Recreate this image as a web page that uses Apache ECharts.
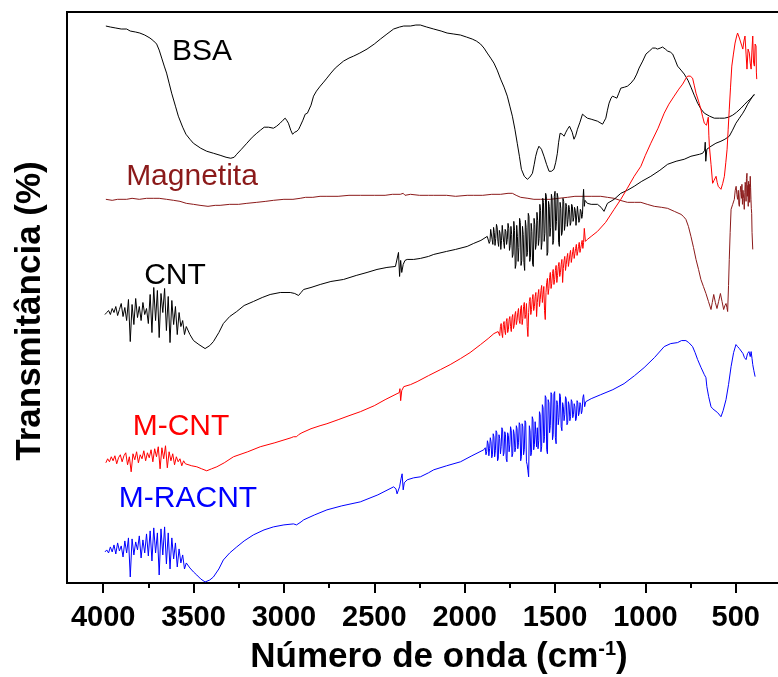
<!DOCTYPE html>
<html>
<head>
<meta charset="utf-8">
<script src="https://cdn.jsdelivr.net/npm/echarts@6/dist/echarts.min.js"></script>
<style>
  html, body { margin: 0; padding: 0; background: #fff; }
  #chart { width: 778px; height: 677px; }
</style>
</head>
<body>
<div id="chart"></div>
<script>
// FTIR spectra: [wavenumber (cm-1), transmittance (a.u., vertically offset)]
const bsa = [
  [3985,556],[3960,555],[3930,554],[3900,553],[3870,553],[3850,551],[3820,550],[3797,549],[3770,547],[3741,544],
  [3720,541],[3704,538],[3690,532],[3676,524],[3662,516],[3649,509],[3635,499],[3621,489],[3600,476],[3584,466],
  [3560,455],[3542,448],[3520,443],[3501,439],[3460,434],[3427,431],[3390,429],[3353,427],[3320,425],[3294,424],
  [3275,425],[3261,428],[3235,433],[3205,439],[3175,445],[3150,449],[3130,452],[3109,455],[3085,455],[3058,454],
  [3040,456],[3021,459],[3005,462],[2993,464],[2985,462],[2975,459],[2962,452],[2952,448],[2940,450],[2928,451],
  [2918,453],[2910,456],[2895,462],[2882,468],[2870,469],[2864,469],[2850,477],[2836,486],[2820,491],[2799,496],
  [2780,500],[2762,504],[2740,509],[2716,514],[2690,518],[2670,521],[2640,524],[2614,526],[2580,529],[2540,533],
  [2500,538],[2466,543],[2430,548],[2393,553],[2360,555],[2337,556],[2300,556],[2270,557],[2245,557],[2210,555],
  [2171,553],[2130,551],[2097,549],[2060,548],[2023,547],[1990,545],[1958,543],[1935,541],[1912,538],[1893,534],
  [1875,529],[1856,524],[1838,519],[1820,512],[1801,503],[1782,495],[1764,486],[1750,476],[1736,466],[1722,453],
  [1709,439],[1697,426],[1686,413],[1670,406],[1653,403],[1640,405],[1625,409],[1615,418],[1607,426],[1598,432],
  [1589,436],[1575,433],[1561,426],[1547,418],[1533,411],[1520,411],[1506,413],[1496,420],[1487,429],[1480,440],
  [1472,449],[1460,448],[1450,446],[1440,450],[1431,453],[1420,456],[1413,457],[1405,450],[1395,443],[1385,447],
  [1376,453],[1362,460],[1348,468],[1335,466],[1321,464],[1300,463],[1293,463],[1265,461],[1237,458],[1228,461],
  [1219,464],[1210,472],[1201,479],[1190,484],[1182,486],[1170,485],[1158,484],[1147,489],[1136,494],[1115,495],
  [1099,496],[1080,499],[1062,503],[1048,508],[1035,514],[1015,521],[997,528],[978,531],[960,534],[945,534],
  [933,533],[918,534],[905,535],[890,533],[877,531],[862,530],[849,528],[835,522],[822,516],[803,512],
  [785,508],[765,502],[748,495],[730,487],[711,479],[692,473],[674,469],[645,466],[619,464],[590,464],
  [563,464],[540,465],[517,467],[495,470],[471,474],[450,478],[434,481],[420,483],[406,486],[397,487]
];

const magnetita = [
  [3985,383],[3950,382],[3920,383],[3890,383],[3870,383],[3840,384],[3800,383],[3760,384],[3723,384],[3690,384],
  [3649,383],[3610,382],[3575,381],[3540,379],[3500,378],[3464,377],[3420,376],[3380,377],[3353,377],[3300,378],
  [3250,378],[3205,379],[3150,380],[3100,381],[3058,382],[3000,383],[2950,383],[2910,384],[2880,385],[2840,385],
  [2800,386],[2762,386],[2700,386],[2640,387],[2577,387],[2500,387],[2440,387],[2400,388],[2356,388],[2340,389],
  [2330,387],[2300,388],[2250,387],[2200,387],[2171,387],[2100,387],[2050,386],[1986,387],[1950,387],[1900,387],
  [1850,388],[1801,388],[1760,389],[1736,389],[1715,387],[1690,385],[1650,384],[1617,383],[1580,383],[1550,383],
  [1524,383],[1480,384],[1431,385],[1390,386],[1339,386],[1300,386],[1247,386],[1210,385],[1173,384],[1140,382],
  [1099,380],[1060,380],[1025,380],[990,378],[951,376],[910,375],[877,374],[840,371],[803,368],[790,366],
  [776,363],[762,356],[748,346],[734,335],[720,323],[706,313],[693,303],[679,296],[665,289],[651,281],
  [637,273],[630,280],[622,288],[613,280],[604,274],[595,281],[585,289],[576,281],[567,273],[560,277],
  [554,279],[549,275],[545,271],[540,297],[536,323],[531,350],[526,373],[517,378],[508,383],[503,392],
  [498,396],[494,388],[490,383],[486,392],[483,378],[480,376],[476,390],[473,396],[471,393],[468,384],
  [466,398],[463,378],[460,392],[456,384],[453,373],[450,390],[448,400],[446,398],[443,381],[441,404],
  [438,409],[436,386],[433,397],[431,376],[429,401],[427,392],[425,398],[423,380],[420,406],[418,395],
  [416,383],[414,374],[412,369],[410,350],[406,333]
];

const cnt = [
  [3990,268],[3980,270],[3970,272],[3960,268],[3950,274],[3940,270],[3930,276],[3920,267],[3910,273],[3900,279],
  [3890,266],[3880,275],[3870,262],[3860,283],[3850,241],[3840,278],[3830,258],[3820,284],[3810,265],[3800,276],
  [3790,262],[3780,280],[3770,268],[3760,274],[3750,259],[3740,288],[3730,250],[3720,295],[3710,262],[3700,292],
  [3690,245],[3680,289],[3670,270],[3660,294],[3650,252],[3640,286],[3630,240],[3620,282],[3610,258],[3600,276],
  [3590,248],[3580,270],[3570,256],[3560,262],[3550,248],[3540,256],[3520,248],[3500,242],[3470,238],[3436,234],
  [3410,237],[3390,241],[3360,250],[3335,259],[3300,266],[3261,271],[3220,277],[3169,281],[3120,285],[3076,288],
  [3020,290],[2965,290],[2940,289],[2919,287],[2905,290],[2891,293],[2850,295],[2799,298],[2740,301],[2670,303],
  [2600,307],[2540,310],[2485,313],[2430,315],[2383,316],[2372,316],[2366,330],[2360,306],[2354,322],[2348,310],
  [2340,318],[2330,322],[2318,323],[2282,323],[2245,324],[2200,326],[2171,328],[2100,331],[2050,333],[1986,336],
  [1950,339],[1910,342],[1875,346],
  [1868,347],[1864,339],[1860,341],[1856,353],[1852,352],[1848,343],[1844,338],[1840,355],[1836,350],[1832,337],
  [1828,344],[1824,358],[1820,355],[1816,341],[1812,336],[1808,352],[1804,349],[1800,333],[1796,342],[1792,357],
  [1788,356],[1784,340],[1780,334],[1776,353],[1772,351],[1768,338],[1764,343],[1760,359],[1756,354],[1752,332],
  [1748,337],[1744,356],[1740,348],[1736,325],[1732,328],[1728,361],[1724,352],[1720,314],[1716,318],[1712,357],
  [1708,346],[1704,321],[1700,335],[1696,364],[1692,360],[1688,317],[1684,322],[1680,356],[1676,348],[1672,320],
  [1668,312],[1664,362],[1660,355],[1656,326],[1652,330],[1648,369],[1644,366],[1640,321],[1636,325],[1632,359],
  [1628,351],[1624,318],[1620,316],[1616,364],[1612,358],[1608,333],[1604,338],[1600,370],[1596,362],[1592,337],
  [1588,344],[1584,378],[1580,372],[1576,333],[1572,340],[1568,384],[1564,380],[1560,341],[1556,349],[1552,389],
  [1548,386],[1544,327],[1540,330],[1536,381],[1532,376],[1528,346],[1524,355],[1520,388],[1516,383],[1512,338],
  [1508,342],[1504,386],[1500,391],[1496,352],[1492,361],[1488,389],[1484,385],[1480,340],[1476,336],[1472,380],
  [1468,374],[1464,347],[1460,350],[1456,384],[1452,381],[1448,352],[1444,358],[1440,379],[1436,376],[1432,356],
  [1428,363],[1424,377],[1420,373],[1416,357],[1412,360],[1408,378],[1404,376],[1400,361],[1396,365],[1392,375],
  [1388,372],[1384,357],[1380,358],[1376,376],[1372,375],[1368,360],[1364,362],[1360,373],[1356,371],[1352,364],
  [1348,368],[1345,384],[1342,393],[1338,376],[1334,382],
  [1321,379],[1300,378],[1265,378],[1245,375],[1229,371],[1210,379],[1173,383],[1136,389],[1100,392],[1062,396],
  [1020,401],[970,406],[920,412],[877,418],[830,421],[785,423],[748,426],[700,428],[683,429],[672,432],
  [669,440],[666,421],[660,433],[637,436],[610,439],[582,441],[560,443],[536,446],[518,452],[499,459],
  [480,464],[461,469],[448,473],[434,478],[420,482],[406,486],[397,488]
];

const mCnt = [
  [3985,120],[3975,124],[3965,121],[3955,126],[3945,122],[3935,127],[3925,119],[3915,125],[3905,128],[3895,121],
  [3885,127],[3875,130],[3865,118],[3855,126],[3845,111],[3835,129],[3825,123],[3815,131],[3805,120],[3795,128],
  [3785,124],[3775,132],[3765,122],[3755,130],[3745,125],[3735,133],[3725,121],[3715,134],[3705,126],[3695,136],
  [3685,114],[3675,135],[3665,124],[3655,137],[3645,115],[3635,131],[3625,122],[3615,129],[3605,118],[3595,126],
  [3585,121],[3575,124],[3565,117],[3555,122],[3545,119],[3538,119],[3510,117],[3482,116],[3455,114],[3427,112],
  [3400,114],[3371,116],[3330,120],[3279,126],[3200,131],[3131,136],[3050,140],[2960,145],[2947,146],[2930,146],
  [2919,148],[2900,150],[2850,154],[2800,157],[2762,159],[2700,163],[2640,167],[2577,171],[2500,177],[2440,183],
  [2374,189],[2362,190],[2358,194],[2354,182],[2348,192],[2337,196],[2300,198],[2263,201],[2200,207],[2134,213],
  [2080,218],[2023,224],[1970,230],[1912,238],[1870,244],[1838,249],[1815,251],
  [1810,252],[1806,247],[1802,256],[1798,259],[1794,249],[1790,245],[1786,258],[1782,261],[1778,252],[1774,248],
  [1770,261],[1766,264],[1762,250],[1758,253],[1754,263],[1750,266],[1746,256],[1742,251],[1738,265],[1734,268],
  [1730,254],[1726,257],[1722,268],[1718,271],[1714,258],[1710,262],[1706,270],[1702,274],[1698,262],[1694,259],
  [1690,274],[1686,277],[1682,258],[1678,264],[1674,276],[1670,280],[1666,264],[1662,268],[1658,279],[1654,256],
  [1650,246],[1646,270],[1642,281],[1638,285],[1634,268],[1630,273],[1626,283],[1622,288],[1618,272],[1614,276],
  [1610,286],[1606,290],[1602,266],[1598,280],[1594,288],[1590,293],[1586,276],[1582,283],[1578,292],[1574,297],
  [1570,280],[1566,288],[1562,296],[1558,272],[1554,263],[1550,290],[1546,300],[1542,304],[1538,288],[1534,294],
  [1530,305],[1526,310],[1522,294],[1518,299],[1514,309],[1510,313],[1506,298],[1502,303],[1498,312],[1494,317],
  [1490,300],[1486,307],[1482,316],[1478,320],[1474,306],[1470,310],[1466,318],[1462,323],[1458,300],[1454,314],
  [1450,322],[1446,326],[1442,312],[1438,318],[1434,325],[1430,329],[1426,316],[1422,321],[1418,328],[1414,332],
  [1410,320],[1406,325],[1402,331],[1398,335],[1394,324],[1390,329],[1386,334],[1382,338],[1378,327],[1374,331],
  [1370,336],[1366,340],[1362,330],[1358,334],[1354,338],[1350,342],[1346,334],[1342,340],[1338,354],[1332,341],
  [1321,343],[1300,346],[1265,351],[1220,360],[1173,373],[1136,383],[1100,394],[1062,406],[1025,416],
  [1000,427],[970,439],[930,454],[896,469],[870,478],[841,486],[815,493],[794,498],[775,504],[766,506],
  [752,506],[739,504],[730,497],[720,489],[706,481],[693,473],[684,466],[674,459],[662,457],[655,456],
  [652,465],[649,447],[646,436],[637,418],[628,399],[620,402],[609,406],[603,400],[597,396],[590,395],
  [582,393],[572,399],[563,406],[555,420],[548,433],[542,453],[536,473],[529,495],[522,516],[513,528],
  [504,539],[495,546],[490,549],[486,549],[480,544],[475,541],[468,537],[461,533],[455,541],[449,546],
  [443,528],[438,513],[432,533],[425,529],[420,519],[415,513],[411,530],[406,546],[402,520],[397,516],
  [393,538],[388,536],[386,510],[384,503]
];

const mRacnt = [
  [3990,31],[3980,33],[3970,30],[3960,36],[3950,31],[3940,38],[3930,29],[3920,40],[3910,32],[3900,37],
  [3890,26],[3880,42],[3870,30],[3860,45],[3850,6],[3840,44],[3830,28],[3820,41],[3810,33],[3800,47],
  [3790,25],[3780,43],[3770,30],[3760,49],[3750,27],[3740,52],[3730,22],[3720,55],[3710,30],[3700,50],
  [3690,8],[3680,54],[3670,28],[3660,56],[3650,19],[3640,50],[3630,14],[3620,45],[3610,24],[3600,40],
  [3590,16],[3580,34],[3570,20],[3560,28],[3550,14],[3540,20],[3520,15],[3500,11],[3482,8],[3460,4],
  [3436,1],[3410,3],[3390,6],[3360,14],[3335,23],[3300,30],[3261,36],[3220,42],[3169,48],[3110,53],
  [3058,56],[3000,58],[2947,59],[2930,58],[2919,58],[2905,61],[2891,63],[2830,68],[2762,73],[2680,77],
  [2577,81],[2480,88],[2393,96],[2380,94],[2374,89],[2360,96],[2352,104],[2346,109],[2340,93],[2334,100],
  [2318,103],[2282,105],[2245,106],[2200,110],[2171,113],[2100,117],[2023,121],[1960,127],[1894,133],
  [1886,135],[1882,128],[1878,131],[1874,142],[1870,139],[1866,127],[1862,134],[1858,145],[1854,141],[1850,125],
  [1846,128],[1842,149],[1838,146],[1834,126],[1830,132],[1826,152],[1822,150],[1818,122],[1814,124],[1810,148],
  [1806,144],[1802,129],[1798,136],[1794,155],[1790,153],[1786,127],[1782,130],[1778,151],[1774,148],[1770,124],
  [1766,121],[1762,150],[1758,147],[1754,131],[1750,138],[1746,156],[1742,152],[1738,126],[1734,129],[1730,153],
  [1726,149],[1722,131],[1718,135],[1714,157],[1710,154],[1706,134],[1702,140],[1698,160],[1694,158],[1690,122],
  [1686,126],[1682,159],[1678,156],[1674,128],[1670,133],[1666,162],[1662,160],[1658,121],[1654,118],[1650,112],
  [1646,106],[1642,157],[1638,152],[1634,127],[1630,130],[1626,166],[1622,163],[1618,133],[1614,138],[1610,161],
  [1606,148],[1602,136],[1598,155],[1594,134],[1590,142],[1586,171],[1582,168],[1578,131],[1574,136],[1570,178],
  [1566,175],[1562,140],[1558,146],[1554,187],[1550,185],[1546,133],[1542,129],[1538,183],[1534,180],[1530,150],
  [1526,157],[1522,190],[1518,188],[1514,143],[1510,148],[1506,189],[1502,191],[1498,145],[1494,139],[1490,182],
  [1486,178],[1482,158],[1478,165],[1474,189],[1470,186],[1466,156],[1462,152],[1458,180],[1454,176],[1450,162],
  [1446,168],[1442,186],[1438,184],[1434,158],[1430,160],[1426,181],[1422,178],[1418,162],[1414,166],[1410,183],
  [1406,181],[1402,165],[1398,168],[1394,179],[1390,176],[1386,162],[1382,164],[1378,182],[1374,180],[1370,167],
  [1366,170],[1362,180],[1358,178],[1354,169],[1350,172],[1346,185],[1342,188],[1336,176],[1330,181],
  [1300,184],[1247,188],[1180,193],[1118,199],[1060,207],[1007,215],[950,225],[896,236],[860,239],
  [822,240],[800,242],[776,242],[760,240],[739,236],[725,230],[711,223],[692,215],[674,208],[665,205],
  [660,196],[650,186],[637,176],[628,174],[619,173],[600,170],[582,166],[570,172],[554,183],[540,198],
  [526,216],[512,230],[499,238],[490,236],[480,234],[471,233],[460,229],[452,225],[443,223],[435,229],
  [427,231],[420,226],[415,231],[410,224],[406,218],[400,212],[393,206]
];

// Wavenumber axis ticks
const majorTicks = [4000, 3500, 3000, 2500, 2000, 1500, 1000, 500];
const minorTicks = [3750, 3250, 2750, 2250, 1750, 1250, 750, 250];

// Curve names written inside the plot
const curveNames = ['BSA', 'Magnetita', 'CNT', 'M-CNT', 'M-RACNT'];
const curveColors = ['#000000', '#8b1a1a', '#000000', '#ff0000', '#0000ff'];
const curveData = [bsa, magnetita, cnt, mCnt, mRacnt];
const namePos = [[202, 52], [192, 177], [175, 276], [181, 427], [188, 499]];

const FONT = '"Liberation Sans", Arial, Helvetica, sans-serif';

const chart = echarts.init(document.getElementById('chart'), null, { renderer: 'canvas' });

const xCommon = {
  type: 'value', min: 200, max: 4200, inverse: true, gridIndex: 0,
  position: 'bottom', offset: 0, splitLine: { show: false }
};

const option = {
  animation: false,
  backgroundColor: '#ffffff',
  grid: {
    left: 67, right: -12, top: 12, bottom: 94,
    outerBoundsMode: 'none', containLabel: false,
    show: true, borderColor: '#000', borderWidth: 2, backgroundColor: 'transparent'
  },
  xAxis: [
    Object.assign({}, xCommon, {
      axisLine: { show: true, lineStyle: { color: '#000', width: 2 } },
      axisTick: { show: true, inside: false, length: 10, customValues: majorTicks,
                  lineStyle: { color: '#000', width: 2 } },
      axisLabel: { show: true, customValues: majorTicks, margin: 20, color: '#000',
                   fontSize: 29, fontWeight: 'bold', fontFamily: FONT,
                   formatter: (v) => String(v) }
    }),
    Object.assign({}, xCommon, {
      axisLine: { show: false },
      axisTick: { show: true, inside: false, length: 5, customValues: minorTicks,
                  lineStyle: { color: '#000', width: 2 } },
      axisLabel: { show: false }
    })
  ],
  yAxis: {
    type: 'value', min: 0, max: 570,
    axisLine: { show: true, lineStyle: { color: '#000', width: 2 } },
    axisTick: { show: false }, axisLabel: { show: false }, splitLine: { show: false }
  },
  series: curveData.map((d, i) => ({
    name: curveNames[i],
    type: 'line',
    xAxisIndex: 0,
    data: d,
    showSymbol: false,
    silent: true,
    clip: true,
    lineStyle: { color: curveColors[i], width: 1 },
    itemStyle: { color: curveColors[i] }
  })),
  graphic: [
    {
      type: 'text', x: 30, y: 311, rotation: Math.PI / 2,
      style: { text: 'Transmitância (%)', fill: '#000', align: 'center', verticalAlign: 'middle',
               font: 'bold 35px ' + FONT }
    },
    {
      type: 'text', x: 439, y: 657,
      style: {
        text: 'Número de onda (cm{sup|-1})', fill: '#000', align: 'center', verticalAlign: 'middle',
        font: 'bold 35px ' + FONT,
        rich: { sup: { fontSize: 20, fontWeight: 'bold', fontFamily: FONT, fill: '#000', verticalAlign: 'top' } }
      }
    }
  ].concat(curveNames.map((n, i) => ({
    type: 'text', x: namePos[i][0], y: namePos[i][1],
    style: { text: n, fill: curveColors[i], align: 'center', verticalAlign: 'middle',
             font: '30px ' + FONT }
  })))
};

chart.setOption(option);
</script>
</body>
</html>
